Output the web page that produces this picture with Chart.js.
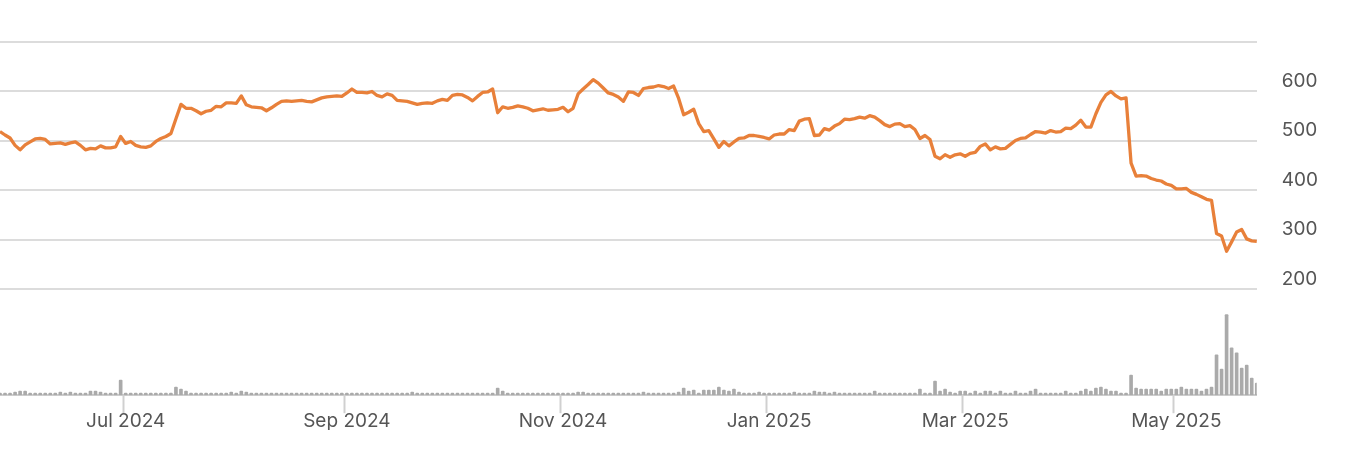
<!DOCTYPE html>
<html>
<head>
<meta charset="utf-8">
<script src="https://cdn.jsdelivr.net/npm/chart.js@4/dist/chart.umd.min.js"></script>
<style>
  html, body { margin: 0; padding: 0; background: #fff; }
  #wrap { width: 1356px; height: 456px; position: relative; }
</style>
</head>
<body>
<div id="wrap"><canvas id="priceChart"></canvas></div>
<script>
// Daily closing price, one value per trading day (23 May 2024 - 23 May 2025)
const closePrice = [
  519,512,506,491,482,492,498,504,505,503,
  494,495,496,493,496,498,491,482,485,484,
  490,486,486,488,509,495,499,491,488,487,
  490,499,505,509,515,545,574,566,566,561,
  555,560,562,570,569,577,577,576,591,573,
  569,568,567,561,567,574,580,581,580,581,
  582,580,579,583,587,589,590,591,590,597,
  605,598,598,597,600,592,589,595,592,582,
  581,580,577,574,576,577,576,581,584,582,
  592,594,593,588,581,590,598,599,605,557,
  569,566,568,571,569,566,561,563,565,562,
  563,564,568,559,566,595,605,614,624,617,
  607,597,594,589,580,599,598,592,606,608,
  609,612,610,606,611,586,553,558,564,535,
  519,521,504,487,499,490,498,505,506,511,
  511,509,507,504,512,514,514,523,521,540,
  544,545,511,512,525,522,530,535,544,543,
  545,548,546,551,548,541,533,529,534,535,
  529,531,523,505,511,503,469,464,472,467,
  472,474,469,475,477,489,494,482,488,484,
  485,493,501,505,506,513,519,518,516,521,
  518,519,526,525,532,542,528,528,555,578,
  593,600,591,585,587,455,429,430,429,424,
  421,419,413,410,403,403,404,396,392,387,
  382,380,313,308,277,296,316,321,302,298,297
];

// Daily traded volume (same days)
const volume = [
  2,2,2,3,4,4,2,2,2,2,
  2,2,3,2,3,2,2,2,4,4,
  3,2,2,2,15,2,2,2,2,2,
  2,2,2,2,2,8,6,4,2,2,
  2,2,2,2,2,2,3,2,4,3,
  2,2,2,2,2,2,2,2,2,2,
  2,2,2,2,2,2,2,2,2,2,
  2,2,2,2,2,2,2,2,2,2,
  2,2,3,2,2,2,2,2,2,2,
  2,2,2,2,2,2,2,2,2,7,
  4,2,2,2,2,2,2,2,2,2,
  2,2,2,2,2,3,3,2,2,2,
  2,2,2,2,2,2,2,2,3,2,
  2,2,2,2,2,3,7,4,5,2,
  5,5,5,8,5,4,6,3,2,2,
  2,3,2,2,2,2,2,2,3,2,
  2,2,4,3,3,2,3,2,2,2,
  2,2,2,2,4,2,2,2,2,2,
  2,2,2,6,2,2,14,4,6,3,
  2,4,4,2,4,2,4,4,2,4,
  2,2,4,2,2,4,6,2,2,2,
  2,2,4,2,2,4,6,4,7,8,
  6,4,4,2,2,20,7,6,6,6,
  6,4,6,6,6,8,6,6,6,4,
  6,8,40,26,80,47,42,27,30,17,12
];

// Axis labels
const tickLabels = ['Jul 2024', 'Sep 2024', 'Nov 2024', 'Jan 2025', 'Mar 2025', 'May 2025'];
const priceTicks = [200, 300, 400, 500, 600, 700];
const monthNames = ['Jan','Feb','Mar','Apr','May','Jun','Jul','Aug','Sep','Oct','Nov','Dec'];

// Trading calendar
const startDate = '2024-05-23';
const holidays = ['2024-05-27','2024-06-19','2024-07-04','2024-09-02','2024-11-28',
                  '2024-12-25','2025-01-01','2025-01-09','2025-01-20','2025-02-17','2025-04-18'];

function tradingDays(start, count) {
    const out = [];
    const d = new Date(start + 'T12:00:00Z');
    while (out.length < count) {
        const wd = d.getUTCDay();
        const iso = d.toISOString().slice(0, 10);
        if (wd !== 0 && wd !== 6 && !holidays.includes(iso)) out.push(iso);
        d.setUTCDate(d.getUTCDate() + 1);
    }
    return out;
}

const dates = tradingDays(startDate, closePrice.length);

// label only on the first trading day of the listed months
function monthLabel(i) {
    const d = dates[i];
    if (!d) return '';
    if (i > 0 && dates[i - 1].slice(0, 7) === d.slice(0, 7)) return '';
    const name = monthNames[+d.slice(5, 7) - 1] + ' ' + d.slice(0, 4);
    return tickLabels.includes(name) ? name : '';
}

const textColor = '#555555';
const gridColor = '#dcdcdc';

new Chart(document.getElementById('priceChart'), {
    type: 'line',
    data: {
        labels: dates,
        datasets: [
            {
                label: 'Price',
                data: closePrice,
                yAxisID: 'y',
                borderColor: '#e8803a',
                borderWidth: 3.3,
                pointRadius: 0,
                tension: 0,
                borderJoinStyle: 'round',
                order: 0
            },
            {
                type: 'bar',
                label: 'Volume',
                data: volume,
                yAxisID: 'yVol',
                backgroundColor: '#aaaaaa',
                barThickness: 3,
                borderRadius: 1,
                order: 1
            }
        ]
    },
    options: {
        responsive: true,
        maintainAspectRatio: false,
        animation: false,
        layout: { padding: { top: 42, right: 13, bottom: 26, left: 0 } },
        plugins: {
            legend: { display: false },
            tooltip: { enabled: false }
        },
        scales: {
            x: {
                type: 'category',
                offset: false,
                grid: {
                    drawOnChartArea: false,
                    tickLength: 18,
                    tickWidth: 2,
                    color: ctx => monthLabel(ctx.index) ? '#d0d0d0' : 'rgba(0,0,0,0)',
                    tickColor: ctx => monthLabel(ctx.index) ? '#d0d0d0' : 'rgba(0,0,0,0)'
                },
                border: { display: true, color: '#cfcfcf', width: 2 },
                ticks: {
                    autoSkip: false,
                    maxRotation: 0,
                    padding: -3,
                    color: textColor,
                    font: { family: 'Inter', size: 19 },
                    callback: (value, index) => monthLabel(index)
                }
            },
            y: {
                position: 'right',
                min: -14,
                max: 700,
                afterBuildTicks: axis => {
                    axis.ticks = priceTicks.map(v => ({ value: v }));
                },
                grid: { color: gridColor, lineWidth: 2, drawTicks: false },
                border: { display: false },
                ticks: {
                    padding: 25,
                    labelOffset: -10.5,
                    color: textColor,
                    font: { family: 'Inter', size: 19 },
                    callback: v => v === 700 ? '' : v
                }
            },
            yVol: {
                display: false,
                min: 0,
                max: 351
            }
        }
    }
});
</script>
</body>
</html>
